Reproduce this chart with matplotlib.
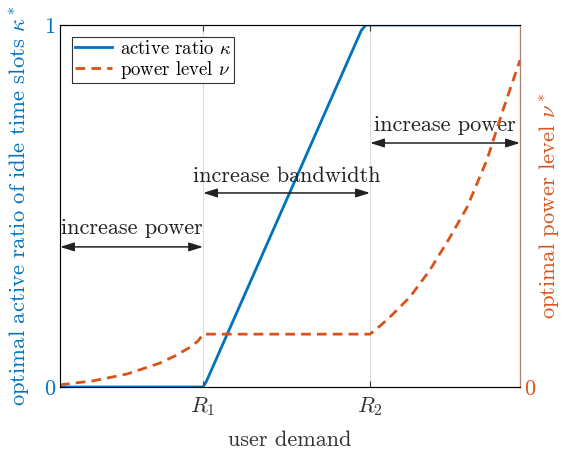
import matplotlib
matplotlib.use("Agg")
import matplotlib.pyplot as plt

plt.rcParams['font.family'] = 'cmr10'
plt.rcParams['mathtext.fontset'] = 'cm'
plt.rcParams['axes.formatter.use_mathtext'] = True
plt.rcParams['font.size'] = 12

blue = '#0072BD'
orange = '#D95319'

# user demand (normalised), with R1 and R2 thresholds
R1, R2 = 0.311, 0.674

# active ratio kappa*
kappa_x = [0.0, 0.311, 0.318, 0.655, 0.665, 1.0]
kappa_y = [0.0, 0.0, 0.015, 0.985, 1.0, 1.0]

# power level nu*
nu_x = [0.0, 0.072, 0.146, 0.217, 0.250, 0.283, 0.300, 0.311, 0.674, 0.695,
        0.717, 0.761, 0.804, 0.848, 0.885, 0.928, 0.963, 1.0]
nu_y = [0.006, 0.017, 0.036, 0.066, 0.086, 0.110, 0.127, 0.146, 0.146, 0.168,
        0.193, 0.249, 0.323, 0.414, 0.497, 0.627, 0.765, 0.903]

fig = plt.figure(figsize=(5.62, 4.51), dpi=100)
ax = fig.add_axes([0.1068, 0.1419, 0.8185, 0.8027])
ax2 = ax.twinx()

ax.plot(kappa_x, kappa_y, color=blue, lw=2, label=r'active ratio $\kappa$', zorder=3)
ax2.plot(nu_x, nu_y, color=orange, lw=2, ls=(0, (3.5, 2.2)), label=r'power level $\nu$')

ax.set_xlim(0, 1)
ax.set_ylim(0, 1)
ax2.set_ylim(0, 1)

ax.set_xticks([R1, R2])
ax.set_xticklabels([r'$R_1$', r'$R_2$'])
ax.set_yticks([0, 1])
ax2.set_yticks([0])
ax.grid(axis='x', color='#dddddd', lw=0.8)
ax.tick_params(direction='in', top=True, length=4, colors='#333333', labelsize=16, pad=6)
ax.tick_params(axis='y', colors=blue, right=False, pad=3)
ax2.tick_params(axis='y', direction='in', colors=orange, labelsize=16, length=4, pad=3)

ax.spines['left'].set_color('#6ea6d6')
ax.spines['top'].set_color('#555555')
ax.spines['bottom'].set_color('#555555')
ax2.spines['right'].set_color('#b08078')
for s in ax2.spines.values():
    s.set_linewidth(0.8)
for s in ax.spines.values():
    s.set_linewidth(0.8)

ax.set_xlabel('user demand', fontsize=16, color='#333333', labelpad=9)
ax.set_ylabel(r'optimal active ratio of idle time slots $\kappa^*$', color=blue, fontsize=16.3, labelpad=8)
ax2.set_ylabel(r'optimal power level $\nu^*$', color=orange, fontsize=16.3, labelpad=1)

# regime annotations
arrow = dict(arrowstyle='<|-|>,head_length=0.7,head_width=0.22', color='#222222', lw=1.1,
             shrinkA=0, shrinkB=0)
regions = [(0.0, R1, 0.387, 0.439, 'increase power'),
           (R1, R2, 0.536, 0.582, 'increase bandwidth'),
           (R2, 1.0, 0.674, 0.724, 'increase power')]
for x0, x1, ya, yt, txt in regions:
    ax.annotate('', xy=(x0, ya), xytext=(x1, ya), arrowprops=arrow, zorder=4)
    ax.text((x0 + x1) / 2, yt, txt, ha='center', va='center', fontsize=16, color='#222222')

h1, l1 = ax.get_legend_handles_labels()
h2, l2 = ax2.get_legend_handles_labels()
leg = ax2.legend(h1 + h2, l1 + l2, loc='upper left', bbox_to_anchor=(0.026, 0.967),
                 fontsize=13.5, fancybox=False, edgecolor='#333333', framealpha=1,
                 handlelength=2.0, borderpad=0.15, labelspacing=0.05, handletextpad=0.4,
                 borderaxespad=0)
leg.get_frame().set_linewidth(0.8)

fig.savefig('out.png', dpi=100)
